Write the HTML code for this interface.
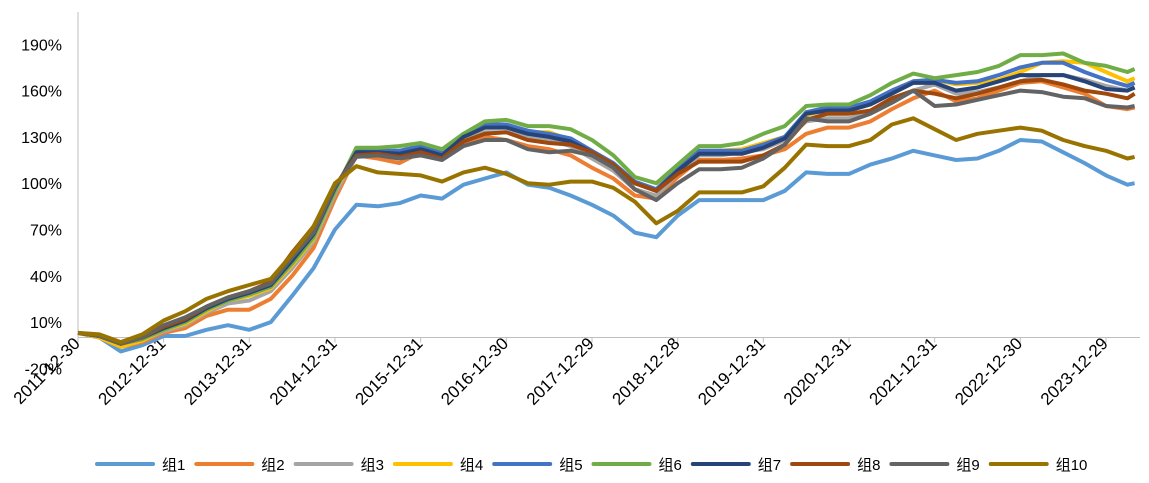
<!DOCTYPE html>
<html><head><meta charset="utf-8"><style>
body{margin:0;background:#fff;}
svg{display:block;font-family:"Liberation Sans","Noto Sans CJK SC",sans-serif;}
</style></head><body>
<svg id="c" width="1149" height="483"></svg>
<script>
const yTicks=[-20,10,40,70,100,130,160,190];
const xLabels=["2011-12-30","2012-12-31","2013-12-31","2014-12-31","2015-12-31","2016-12-30","2017-12-29","2018-12-28","2019-12-31","2020-12-31","2021-12-31","2022-12-30","2023-12-29"];
const seriesNames=["组1","组2","组3","组4","组5","组6","组7","组8","组9","组10"];
const g1=[3,0,-9,-5,1,1,5,8,5,10,27,45,70,86,85,87,92,90,99,103,107,99,97,92,86,79,68,65,79,89,89,89,89,95,107,106,106,112,116,121,118,115,116,121,128,127,120,113,105,99,100];
const g2=[3,0,-6,-3,3,6,14,18,18,25,40,58,90,118,116,113,120,119,126,130,128,124,122,118,110,103,92,90,104,115,115,116,118,122,132,136,136,140,148,155,160,153,155,160,165,166,162,158,150,148,149];
const g3=[3,0,-5,-2,4,8,16,22,24,30,45,62,93,118,118,116,121,118,128,133,133,130,128,124,116,108,96,92,106,118,118,120,122,128,140,142,142,146,154,160,164,158,159,162,166,170,170,167,163,160,162];
const g4=[3,0,-6,-2,5,9,17,24,27,32,47,64,95,120,120,120,123,120,130,136,137,133,133,128,120,112,100,96,110,121,121,122,126,130,144,148,148,152,160,166,167,164,165,167,172,178,179,178,172,166,168];
const g5=[3,1,-4,-1,6,10,18,25,28,33,49,66,96,121,121,121,124,120,132,138,138,134,132,129,121,113,101,96,109,121,121,121,125,130,146,149,149,153,160,166,167,165,166,170,175,178,178,172,167,163,165];
const g6=[3,1,-4,-1,5,10,18,24,28,33,48,65,95,123,123,124,126,122,132,140,141,137,137,135,128,118,104,100,112,124,124,126,132,137,150,151,151,157,165,171,168,170,172,176,183,183,184,178,176,172,174];
const g7=[3,1,-4,0,6,11,19,25,29,34,50,67,97,120,120,119,122,118,130,136,136,132,130,127,120,112,100,95,108,119,119,119,123,129,145,147,147,151,158,165,165,160,162,166,170,170,170,166,161,160,162];
const g8=[3,1,-4,0,7,12,20,26,30,36,55,72,98,118,119,117,120,116,127,132,133,128,126,125,120,112,100,95,106,114,114,114,118,125,141,145,145,147,155,160,158,155,158,162,166,167,164,160,158,155,158];
const g9=[3,1,-4,0,8,13,20,26,30,35,52,68,98,117,118,116,118,115,124,128,128,122,120,121,118,110,96,89,100,109,109,110,116,125,142,140,140,145,152,160,150,151,154,157,160,159,156,155,150,149,150];
const g10=[3,2,-3,2,11,17,25,30,34,38,54,72,100,111,107,106,105,101,107,110,106,100,99,101,101,97,88,74,82,94,94,94,98,110,125,124,124,128,138,142,135,128,132,134,136,134,128,124,121,116,117];
const allSeries=[g1,g2,g3,g4,g5,g6,g7,g8,g9,g10];
const colors=["#5B9BD5","#ED7D31","#A5A5A5","#FFC000","#4472C4","#70AD47","#264478","#9E480E","#636363","#997300"];
const NS="http://www.w3.org/2000/svg";
const svg=document.getElementById('c');
const X0=78,X1=1106,Y0=337.5;
function xm(m){return X0+m*(X1-X0)/144;}
function yv(v){return Y0-v*46.3/30;}
function monthOf(i){return i<50?i*3:148;}
function el(t,a,p){const e=document.createElementNS(NS,t);for(const k in a)e.setAttribute(k,a[k]);(p||svg).appendChild(e);return e;}
const ya=el('line',{x1:X0,y1:12,x2:X0,y2:Y0,stroke:'#BFBFBF','stroke-width':1});


const xa=el('line',{x1:X0,y1:Y0,x2:1140,y2:Y0,stroke:'#BFBFBF','stroke-width':1});


yTicks.forEach(v=>{
  const t=el('text',{x:62,y:yv(v)+6,'text-anchor':'end','font-size':16,fill:'#000'});
  t.textContent=v+'%';
  
  
});
xLabels.forEach((s,i)=>{
  const x=xm(i*12);
  el('line',{x1:x,y1:Y0,x2:x,y2:Y0+5,stroke:'#BFBFBF'});
  const t=el('text',{x:0,y:0,'text-anchor':'end','font-size':17,fill:'#000',transform:`translate(${x+3},${Y0+7}) rotate(-45)`});
  t.textContent=s;
  
  
});
allSeries.forEach((s,si)=>{
  const d=s.map((v,i)=>(i?'L':'M')+xm(monthOf(i)).toFixed(1)+','+yv(v).toFixed(1)).join(' ');
  const p=el('path',{d:d,fill:'none',stroke:colors[si],'stroke-width':4,'stroke-linejoin':'round'});
  
  
});
seriesNames.forEach((n,i)=>{
  const lx=97+i*99.3;
  const g=el('g',{});
  
  
  el('line',{x1:lx,y1:464,x2:lx+56,y2:464,stroke:colors[i],'stroke-width':4,'stroke-linecap':'round'},g);
  const t=el('text',{x:lx+65,y:470,'font-size':15,fill:'#000'},g);
  t.textContent=n;
});
</script>
</body></html>
